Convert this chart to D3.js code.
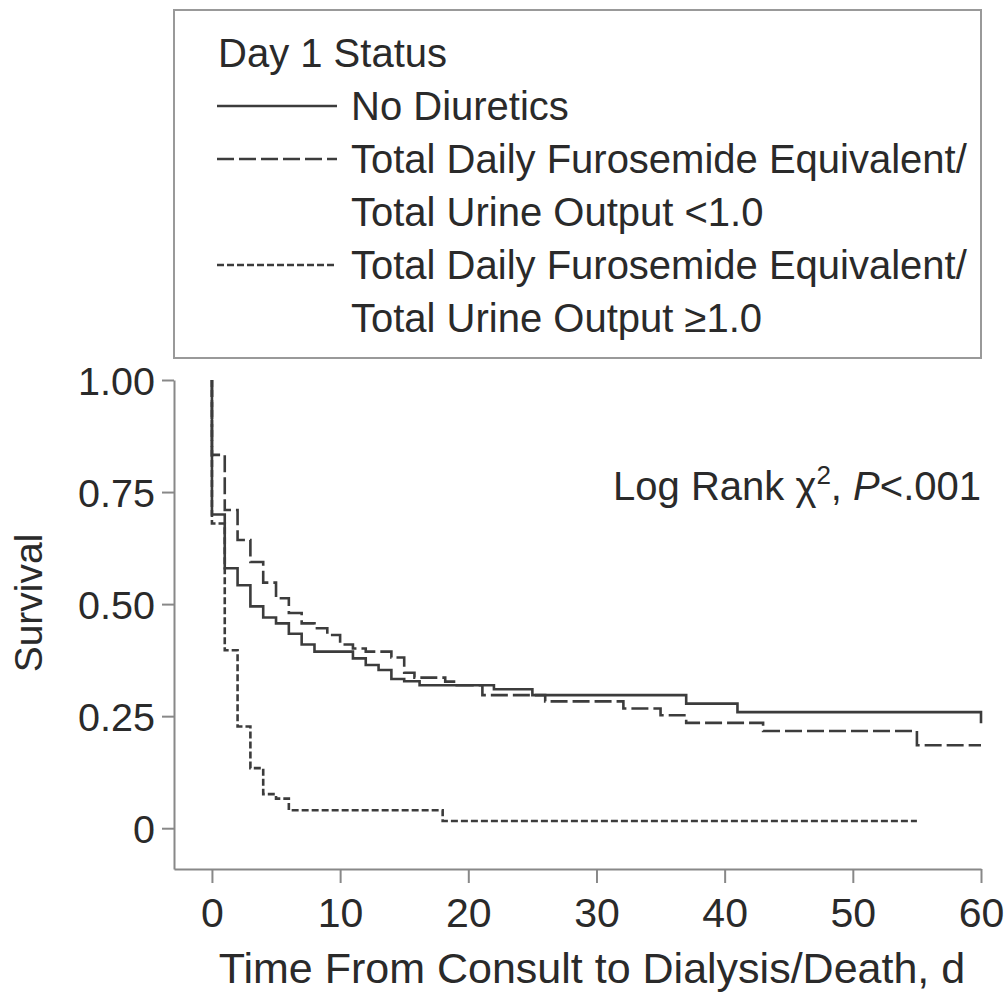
<!DOCTYPE html>
<html>
<head>
<meta charset="utf-8">
<script src="https://cdn.jsdelivr.net/npm/d3@7"></script>
<style>
  body { margin: 0; background: #fff; }
  svg { display: block; }
  text { font-family: "Liberation Sans", Arial, sans-serif; fill: #2a2a2a; }
</style>
</head>
<body>
<svg id="canvas" width="1006" height="993"></svg>
<script>
// Kaplan-Meier steps: survival from each time onward
var noDiureticsTimes = [0, 0, 1, 2, 3, 4, 5, 6, 7, 8, 11, 12, 13, 14, 15, 16.2, 22, 25, 37, 41, 60, 60]
var noDiureticsSurv = [1.00, 0.70, 0.58, 0.542, 0.495, 0.47, 0.457, 0.434, 0.41, 0.394, 0.379, 0.364, 0.353, 0.333, 0.328, 0.319, 0.31, 0.297, 0.278, 0.259, 0.259, 0.234]

var ratioLowTimes = [0, 0, 1, 2, 3, 4, 5, 6, 7, 8, 9, 10, 11, 12, 14, 15, 15.8, 18.2, 19.1, 21.1, 26, 32.1, 35, 37, 43, 55, 60]
var ratioLowSurv = [1.00, 0.833, 0.71, 0.643, 0.594, 0.548, 0.513, 0.48, 0.457, 0.446, 0.431, 0.41, 0.401, 0.394, 0.381, 0.347, 0.336, 0.327, 0.319, 0.297, 0.283, 0.267, 0.252, 0.235, 0.217, 0.185, 0.185]

var ratioHighTimes = [0, 0, 1, 2, 3, 4, 5, 6, 18, 55]
var ratioHighSurv = [1.00, 0.68, 0.397, 0.227, 0.134, 0.076, 0.066, 0.04, 0.016, 0.016]

var xTicks = [0, 10, 20, 30, 40, 50, 60]
var yTicks = [0, 0.25, 0.5, 0.75, 1]
var yTickLabels = ['0', '0.25', '0.50', '0.75', '1.00']

var legendTitle = 'Day 1 Status'
var legendLabels = [
  ['No Diuretics'],
  ['Total Daily Furosemide Equivalent/', 'Total Urine Output <1.0'],
  ['Total Daily Furosemide Equivalent/', 'Total Urine Output \u22651.0']
]

var svg = d3.select('#canvas')

// scales: axis lines run a bit past 0 on both sides
var x = d3.scaleLinear().domain([-2.96, 60]).range([174, 981])
var y = d3.scaleLinear().domain([-0.091, 1]).range([869, 380])

var axisColor = '#888'
var curveColor = '#3c3c3c'
var textColor = '#2a2a2a'
var dashes = [null, '17,5', '7,3']

// y axis
var yAxis = svg.append('g')
  .attr('transform', 'translate(174,0)')
  .call(d3.axisLeft(y).tickValues(yTicks).tickSize(12).tickSizeOuter(0)
    .tickPadding(7).tickFormat(function(d, i) { return yTickLabels[i] }))
yAxis.selectAll('path, line').attr('stroke', axisColor).attr('stroke-width', 2)
yAxis.selectAll('text')
  .attr('font-size', 39.5)
  .attr('font-family', '"Liberation Sans", Arial, sans-serif')
  .attr('fill', textColor)
  .attr('dy', '0.36em')

// x axis
var xAxis = svg.append('g')
  .attr('transform', 'translate(0,869)')
  .call(d3.axisBottom(x).tickValues(xTicks).tickSize(14).tickSizeOuter(0).tickPadding(0))
xAxis.selectAll('path, line').attr('stroke', axisColor).attr('stroke-width', 2)
xAxis.selectAll('text')
  .attr('font-size', 41)
  .attr('font-family', '"Liberation Sans", Arial, sans-serif')
  .attr('fill', textColor)
  .attr('dy', null)
  .attr('y', 58)

// axis titles
svg.append('text')
  .attr('x', 592)
  .attr('y', 983)
  .attr('text-anchor', 'middle')
  .attr('font-size', 43)
  .text('Time From Consult to Dialysis/Death, d')

svg.append('text')
  .attr('transform', 'translate(42,603) rotate(-90)')
  .attr('text-anchor', 'middle')
  .attr('font-size', 39)
  .text('Survival')

// log rank note
var note = svg.append('text')
  .attr('x', 981)
  .attr('y', 500)
  .attr('text-anchor', 'end')
  .attr('font-size', 40)
note.append('tspan').text('Log Rank \u03c7')
note.append('tspan').attr('font-size', 26).attr('dy', -16).text('2')
note.append('tspan').attr('dy', 16).text(', ')
note.append('tspan').attr('font-style', 'italic').text('P')
note.append('tspan').text('<.001')

// survival curves
var line = d3.line()
  .x(function(d) { return x(d[0]) })
  .y(function(d) { return y(d[1]) })
  .curve(d3.curveStepAfter)

var series = [
  d3.zip(noDiureticsTimes, noDiureticsSurv),
  d3.zip(ratioLowTimes, ratioLowSurv),
  d3.zip(ratioHighTimes, ratioHighSurv)
]

svg.selectAll('.km')
  .data(series)
  .enter()
  .append('path')
  .attr('class', 'km')
  .attr('d', line)
  .attr('fill', 'none')
  .attr('stroke', curveColor)
  .attr('stroke-width', 2.6)
  .attr('stroke-dasharray', function(d, i) { return dashes[i] })

// legend box
var legend = svg.append('g')
legend.append('rect')
  .attr('x', 174)
  .attr('y', 10)
  .attr('width', 807)
  .attr('height', 348)
  .attr('fill', '#fff')
  .attr('stroke', '#999')
  .attr('stroke-width', 2)

legend.append('text')
  .attr('x', 218)
  .attr('y', 67)
  .attr('font-size', 40)
  .text(legendTitle)

var rowY = 120
legendLabels.forEach(function(lines, i) {
  legend.append('line')
    .attr('x1', 217)
    .attr('x2', 337)
    .attr('y1', rowY - 14)
    .attr('y2', rowY - 14)
    .attr('stroke', curveColor)
    .attr('stroke-width', 2.6)
    .attr('stroke-dasharray', dashes[i])
  lines.forEach(function(s, j) {
    legend.append('text')
      .attr('x', 351)
      .attr('y', rowY + j * 53)
      .attr('font-size', 40)
      .text(s)
  })
  rowY += lines.length * 53
})
</script>
</body>
</html>
